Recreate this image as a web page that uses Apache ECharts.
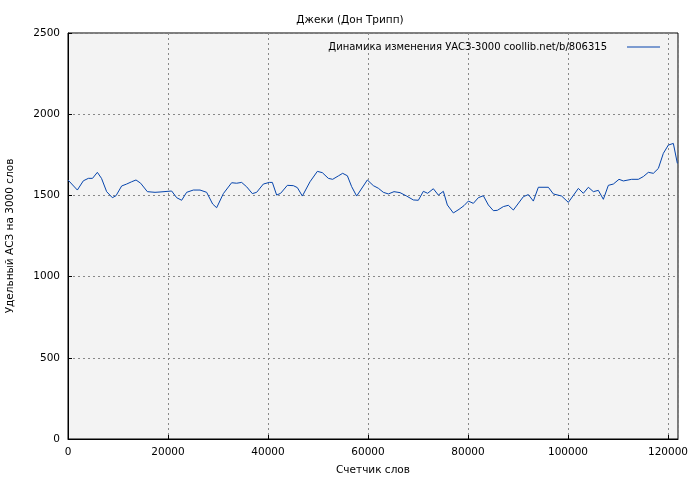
<!DOCTYPE html>
<html><head><meta charset="utf-8">
<script src="https://cdn.jsdelivr.net/npm/echarts@6/dist/echarts.min.js"></script>
<style>html,body{margin:0;background:#fff}#c{width:700px;height:480px}</style>
</head><body><div id="c"></div>
<script>
const xs = [0,1870,3070,4070,4900,5870,6700,7730,8870,9600,10730,11730,12730,13600,14530,15870,17400,18400,20730,21730,22730,23730,25070,26400,27730,28930,29730,31070,32730,33730,34730,35730,36870,37730,39070,40270,40870,41730,42530,43870,45070,45870,46870,48400,49870,50870,52070,52930,54070,54930,55870,56730,57730,59870,61070,62070,63070,64070,65200,66400,67730,69070,70070,71070,71930,73070,74070,75070,75870,77070,78200,79200,80070,81070,82070,83070,84070,85070,85870,87070,88070,89070,91070,92070,93070,94070,96070,97070,98730,100070,102070,103070,104070,105070,106070,107070,108070,109070,110200,111070,112730,114070,115070,116070,117070,118070,119070,120070,121070,121870];
const ys = [1595,1533,1590,1605,1605,1642,1605,1523,1486,1498,1558,1570,1584,1595,1575,1523,1519,1521,1527,1486,1470,1519,1533,1533,1519,1447,1424,1511,1578,1575,1580,1553,1511,1519,1570,1580,1580,1502,1513,1562,1560,1548,1496,1584,1648,1640,1605,1599,1620,1636,1621,1554,1496,1595,1560,1544,1519,1509,1523,1517,1496,1472,1470,1525,1513,1541,1502,1525,1441,1392,1414,1437,1465,1451,1486,1498,1441,1406,1408,1431,1439,1410,1492,1505,1465,1550,1550,1509,1496,1457,1543,1513,1550,1523,1531,1476,1562,1570,1599,1589,1599,1599,1616,1642,1636,1666,1759,1810,1820,1697];
const data = xs.map((x,i)=>[x,ys[i]]);
const font = 'DejaVu Sans';
const ch = echarts.init(document.getElementById('c'));
ch.setOption({
  animation:false,
  textStyle:{fontFamily:font},
  title:{text:'Джеки (Дон Трипп)',left:'center',top:10,textStyle:{fontSize:10.5,fontWeight:'normal',color:'#000',fontFamily:font}},
  grid:{left:68,right:22,top:33,bottom:41,outerBoundsMode:'none',containLabel:false,show:true,backgroundColor:'#f3f3f3',borderColor:'#000',borderWidth:1},
  legend:{right:35,top:37,align:'right',itemWidth:33,itemHeight:1,icon:'rect',itemGap:6,
    textStyle:{fontSize:10,color:'#000',fontFamily:font,padding:[0,15,0,0]},data:['Динамика изменения УАСЗ-3000 coollib.net/b/806315']},
  xAxis:{type:'value',min:0,max:122000,interval:20000,name:'Счетчик слов',nameLocation:'middle',nameGap:26,
    nameTextStyle:{fontSize:10.5,color:'#000'},
    axisLine:{lineStyle:{color:'#000'}},axisTick:{inside:true,length:4,lineStyle:{color:'#000'}},
    axisLabel:{fontSize:10.5,color:'#000',formatter:v=>String(v)},
    splitLine:{lineStyle:{color:'#888',type:[2,3]}}},
  yAxis:{type:'value',min:0,max:2500,interval:500,name:'Удельный АСЗ на 3000 слов',nameLocation:'middle',nameGap:52,
    nameTextStyle:{fontSize:10.5,color:'#000'},
    axisLine:{lineStyle:{color:'#000'}},axisTick:{inside:true,length:4,lineStyle:{color:'#000'}},
    axisLabel:{fontSize:10.5,color:'#000',formatter:v=>String(v)},
    splitLine:{lineStyle:{color:'#888',type:[2,3]}}},
  series:[{name:'Динамика изменения УАСЗ-3000 coollib.net/b/806315',type:'line',data:data,showSymbol:false,
    lineStyle:{color:'#0645ad',width:1},itemStyle:{color:'#0645ad'}}]
});
</script></body></html>
